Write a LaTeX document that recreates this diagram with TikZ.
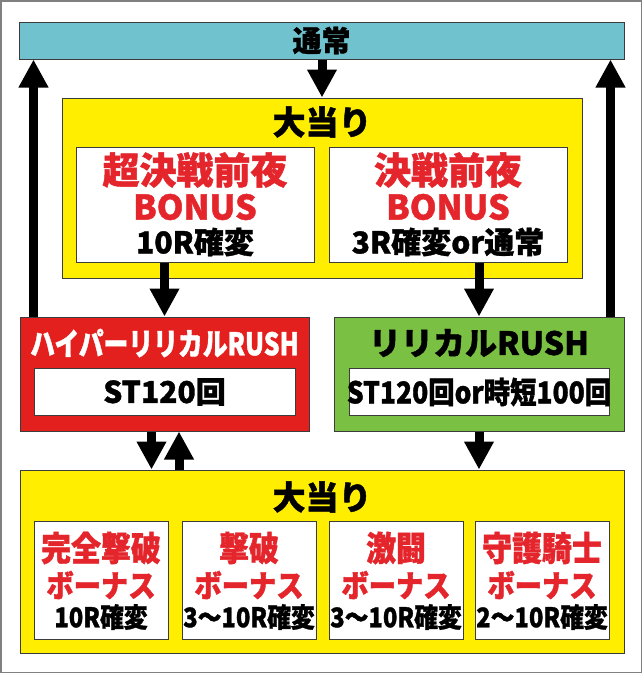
\documentclass[tikz,border=0pt]{standalone}
\usepackage{fontspec}
\usetikzlibrary{arrows.meta}
\newfontfamily\jpfont{Noto Sans CJK JP}[FakeBold=1.2]
\newfontfamily\jpnarrow{Noto Sans CJK JP}[FakeStretch=0.88, FakeBold=1.2]
\newfontfamily\jpcond{Noto Sans CJK JP}[FakeStretch=0.8, FakeBold=1.2]
\definecolor{tsujoblue}{HTML}{6FC2CE}
\definecolor{hityellow}{HTML}{FFEE00}
\definecolor{hyperred}{HTML}{E3201E}
\definecolor{rushgreen}{HTML}{7AC143}
\definecolor{txtred}{HTML}{E4262C}
\definecolor{edge}{HTML}{3C3C3C}
\definecolor{framegray}{HTML}{808080}
\tikzstyle{bar} = [rectangle, draw=edge, line width=1pt, fill=tsujoblue, minimum width=605pt, minimum height=37pt, inner sep=0pt]
\tikzstyle{hitbox} = [rectangle, draw=edge, line width=1pt, fill=hityellow, inner sep=0pt]
\tikzstyle{prize} = [rectangle, draw=edge, line width=1pt, fill=white, inner sep=0pt]
\tikzstyle{rushbox} = [rectangle, draw=edge, line width=1pt, minimum width=290pt, minimum height=114pt, inner sep=0pt]
\tikzstyle{stbox} = [rectangle, draw=edge, line width=1pt, fill=white, minimum width=261pt, minimum height=47pt, inner sep=0pt]
\tikzstyle{arrow} = [line width=9pt, -{Triangle[length=28pt, width=28pt]}]
\tikzstyle{title} = [inner sep=0pt, font=\jpfont\bfseries\fontsize{33}{33}\selectfont]
\tikzstyle{redbig} = [inner sep=0pt, text=txtred, font=\jpfont\bfseries\fontsize{37}{37}\selectfont]
\tikzstyle{redbonus} = [inner sep=0pt, text=txtred, font=\jpfont\bfseries\fontsize{34}{34}\selectfont]
\tikzstyle{odds} = [inner sep=0pt, font=\jpfont\bfseries\fontsize{30}{30}\selectfont]
\tikzstyle{redmid} = [inner sep=0pt, text=txtred, font=\jpnarrow\bfseries\fontsize{34}{34}\selectfont]
\tikzstyle{redkana} = [inner sep=0pt, text=txtred, font=\jpnarrow\bfseries\fontsize{31}{31}\selectfont]
\tikzstyle{oddsnarrow} = [inner sep=0pt, font=\jpnarrow\bfseries\fontsize{27}{27}\selectfont]
\begin{document}
\begin{tikzpicture}[x=1pt, y=-1pt]
\useasboundingbox (0,0) rectangle (642,673);
\draw [framegray, line width=1.5pt] (0.75,0.75) rectangle (641.25,672.25);

% Top bar
\node (tsujo) [bar] at (321.5,40.5) {};
\node (tsujo_txt) [inner sep=0pt, font=\jpfont\bfseries\fontsize{29}{29}\selectfont] at (321.5,40.5) {通常};

% Upper hit
\node (atari1) [hitbox, minimum width=520pt, minimum height=180pt] at (322,188) {};
\node (atari1_txt) [title] at (322,122) {大当り};
\node (b1) [prize, minimum width=238pt, minimum height=115pt] at (195,204.5) {};
\node (b2) [prize, minimum width=238pt, minimum height=115pt] at (448,204.5) {};
\node (b1_name) [redbig] at (195,170) {超決戦前夜};
\node (b1_bonus) [redbonus] at (195,207) {BONUS};
\node (b1_odds) [odds] at (195,242) {10R確変};
\node (b2_name) [redbig] at (448,170) {決戦前夜};
\node (b2_bonus) [redbonus] at (448,207) {BONUS};
\node (b2_odds) [odds] at (448,242) {3R確変or通常};

% RUSH modes
\node (hyper) [rushbox, fill=hyperred, minimum width=289pt] at (164.5,374) {};
\node (hyper_txt) [inner sep=0pt, text=white, font=\jpcond\bfseries\fontsize{31}{31}\selectfont] at (164.5,343) {ハイパーリリカルRUSH};
\node (hyper_st) [stbox] at (164.5,391.5) {};
\node (hyper_st_txt) [odds] at (164.5,392) {ST120回};
\node (rush) [rushbox, fill=rushgreen] at (479,374) {};
\node (rush_txt) [inner sep=0pt, font=\jpfont\bfseries\fontsize{32}{32}\selectfont] at (479,343) {リリカルRUSH};
\node (rush_st) [stbox, minimum width=260pt] at (479,391.5) {};
\node (rush_st_txt) [inner sep=0pt, font=\jpnarrow\bfseries\fontsize{30}{30}\selectfont] at (479,392) {ST120回or時短100回};

% Lower hit
\node (atari2) [hitbox, minimum width=604pt, minimum height=183pt] at (322,561.5) {};
\node (atari2_txt) [title] at (322,497) {大当り};
\node (p1) [prize, minimum width=134pt, minimum height=118pt] at (101,580) {};
\node (p2) [prize, minimum width=134pt, minimum height=118pt] at (249,580) {};
\node (p3) [prize, minimum width=134pt, minimum height=118pt] at (396,580) {};
\node (p4) [prize, minimum width=134pt, minimum height=118pt] at (542,580) {};
\node (p1_name) [redmid] at (101,548) {完全撃破};
\node (p2_name) [redmid] at (249,548) {撃破};
\node (p3_name) [redmid] at (396,548) {激闘};
\node (p4_name) [redmid] at (542,548) {守護騎士};
\node (p1_kana) [redkana] at (101,585) {ボーナス};
\node (p2_kana) [redkana] at (249,585) {ボーナス};
\node (p3_kana) [redkana] at (396,585) {ボーナス};
\node (p4_kana) [redkana] at (542,585) {ボーナス};
\node (p1_odds) [oddsnarrow] at (101,617) {10R確変};
\node (p2_odds) [oddsnarrow] at (249,617) {3〜10R確変};
\node (p3_odds) [oddsnarrow] at (396,617) {3〜10R確変};
\node (p4_odds) [oddsnarrow] at (542,617) {2〜10R確変};

% Arrows
\draw [arrow] (tsujo.south -| atari1.north) -- (atari1.north);
\draw [arrow] (b1.south -| hyper.north) -- (hyper.north);
\draw [arrow] (b2.south -| rush.north) -- (rush.north);
\draw [arrow] ([xshift=14pt]hyper.north west) -- ([xshift=14pt]hyper.north west |- tsujo.south);
\draw [arrow] ([xshift=-14pt]rush.north east) -- ([xshift=-14pt]rush.north east |- tsujo.south);
\draw [arrow] ([xshift=-13pt]hyper.south) -- ([xshift=-13pt]hyper.south |- atari2.north);
\draw [arrow] ([xshift=14.5pt]hyper.south |- atari2.north) -- ([xshift=14.5pt]hyper.south);
\draw [arrow] (rush.south) -- (rush.south |- atari2.north);

\end{tikzpicture}
\end{document}
